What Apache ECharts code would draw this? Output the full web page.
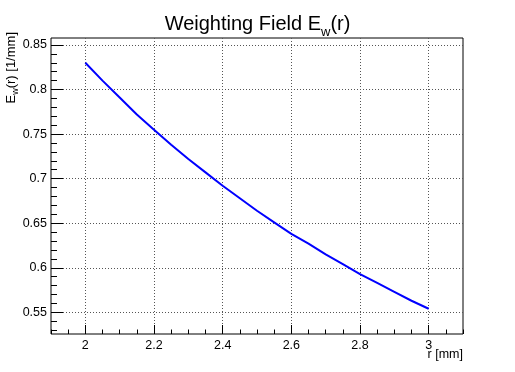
<!DOCTYPE html>
<html>
<head>
<meta charset="utf-8">
<script src="https://cdn.jsdelivr.net/npm/echarts@6/dist/echarts.min.js"></script>
<style>
  html, body { margin: 0; padding: 0; background: #fff; }
  #main { width: 515px; height: 372px; }
</style>
</head>
<body>
<div id="main"></div>
<script>
// r [mm]
const rValues = [2.00, 2.05, 2.10, 2.15, 2.20, 2.25, 2.30, 2.35, 2.40, 2.45, 2.50,
                 2.55, 2.60, 2.65, 2.70, 2.75, 2.80, 2.85, 2.90, 2.95, 3.00];
// E_w(r) [1/mm]
const ewValues = [0.830, 0.810, 0.791, 0.772, 0.755, 0.738, 0.722, 0.707, 0.692, 0.678, 0.664,
                  0.651, 0.638, 0.627, 0.615, 0.604, 0.593, 0.583, 0.573, 0.563, 0.554];
const xTicks = [2, 2.2, 2.4, 2.6, 2.8, 3];
const yTicks = [0.55, 0.6, 0.65, 0.7, 0.75, 0.8, 0.85];

const xMin = 1.9, xMax = 3.1;
const yMin = 0.5257, yMax = 0.8578;

// minor ticks (root style: 4 div on x, 5 div on y)
let xMinor = [];
for (let i = 0; i <= 24; i++) xMinor.push(+(xMin + i * 0.05).toFixed(2));
let yMinor = [];
for (let i = 53; i <= 85; i++) yMinor.push(+(i / 100).toFixed(2));

(function () {
  let dom = document.querySelector("#main");
  let myChart = echarts.init(dom, null, { renderer: "canvas" });
  const font = "Liberation Sans, Arial, Helvetica, sans-serif";
  const gridLine = { show: true, lineStyle: { color: "#555", type: [1, 2], width: 1 } };

  let options = {
    animation: false,
    title: {
      text: "Weighting Field E{sub|w}(r)",
      left: "center",
      top: 5,
      textStyle: {
        fontFamily: font,
        fontSize: 20,
        fontWeight: "normal",
        color: "#000",
        rich: {
          sub: { fontFamily: font, fontSize: 13, color: "#000", verticalAlign: "bottom", padding: [16, 0, 0, 0] }
        }
      }
    },
    grid: {
      left: 51,
      right: 52,
      top: 38,
      bottom: 38,
      show: true,
      borderColor: "#000",
      borderWidth: 1,
      backgroundColor: "transparent"
    },
    xAxis: [
      {
        type: "value",
        min: xMin,
        max: xMax,
        axisLine: { show: false },
        axisTick: { show: true, inside: true, length: 9, customValues: xTicks, lineStyle: { color: "#000" } },
        axisLabel: { customValues: xTicks, color: "#000", fontFamily: font, fontSize: 12.5, margin: 5 },
        splitLine: gridLine
      },
      {
        type: "value",
        min: xMin,
        max: xMax,
        position: "bottom",
        axisLine: { show: false },
        axisTick: { show: true, inside: true, length: 4.5, customValues: xMinor, lineStyle: { color: "#000" } },
        axisLabel: { show: false },
        splitLine: { show: false }
      }
    ],
    yAxis: [
      {
        type: "value",
        min: yMin,
        max: yMax,
        axisLine: { show: false },
        axisTick: { show: true, inside: true, length: 12, customValues: yTicks, lineStyle: { color: "#000" } },
        axisLabel: { customValues: yTicks, color: "#000", fontFamily: font, fontSize: 12.5, margin: 4 },
        splitLine: gridLine
      },
      {
        type: "value",
        min: yMin,
        max: yMax,
        position: "left",
        axisLine: { show: false },
        axisTick: { show: true, inside: true, length: 6, customValues: yMinor, lineStyle: { color: "#000" } },
        axisLabel: { show: false },
        splitLine: { show: false }
      }
    ],
    graphic: [
      {
        type: "text",
        x: 463,
        y: 348,
        style: {
          text: "r [mm]",
          fill: "#000",
          font: "12.5px " + font,
          align: "right",
          verticalAlign: "top"
        }
      },
      {
        type: "text",
        x: 3,
        y: 32,
        rotation: Math.PI / 2,
        style: {
          text: "E{s|w}(r) [1/mm]",
          fill: "#000",
          font: "13px " + font,
          align: "right",
          verticalAlign: "top",
          rich: {
            s: { font: "9px " + font, fill: "#000", verticalAlign: "bottom", padding: [8, 0, 0, 0] }
          }
        }
      }
    ],
    series: [
      {
        type: "line",
        xAxisIndex: 0,
        yAxisIndex: 0,
        data: rValues.map((r, i) => [r, ewValues[i]]),
        showSymbol: false,
        symbol: "none",
        smooth: false,
        lineStyle: { color: "#0000ff", width: 2 }
      }
    ]
  };
  myChart.setOption(options);
  window.addEventListener("resize", () => {
    myChart.resize();
  });
})();
</script>
</body>
</html>
